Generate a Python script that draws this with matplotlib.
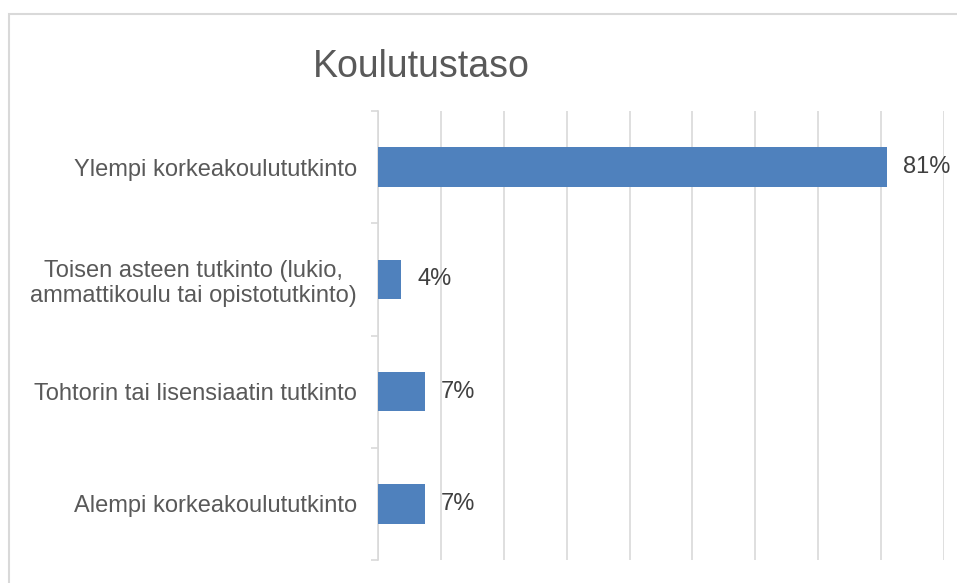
import matplotlib.pyplot as plt
from matplotlib.patches import Rectangle

plt.rcParams['font.family'] = ['Liberation Sans', 'DejaVu Sans']

# data (top to bottom)
categories = [
    'Ylempi korkeakoulututkinto',
    'Toisen asteen tutkinto (lukio,\nammattikoulu tai opistotutkinto)',
    'Tohtorin tai lisensiaatin tutkinto',
    'Alempi korkeakoulututkinto',
]
values = [0.81, 0.037, 0.074, 0.074]
labels = ['81%', '4%', '7%', '7%']

W, H = 957, 583
fig = plt.figure(figsize=(W / 100, H / 100), dpi=100)

# chart border (light gray, runs off right/bottom edge)
fig.patches.append(Rectangle((9 / W, -0.1), 1.2, 1 - 14 / H + 0.1,
                             transform=fig.transFigure, fill=False,
                             edgecolor='#D9D9D9', linewidth=1.5))

ax = fig.add_axes([378 / W, 1 - 560 / H, (944 - 378) / W, (560 - 111) / H])

y = list(range(len(categories)))
ax.barh(y, values, height=0.35, color='#4F81BD', zorder=3)

for yi, v, lab in zip(y, values, labels):
    ax.annotate(lab, (v, yi), xytext=(11.5, 0), textcoords='offset points',
                va='center', ha='left', fontsize=17, color='#404040')

ax.set_xlim(0, 0.9)
ax.set_ylim(len(categories) - 0.5, -0.5)
ax.set_xticks([i / 10 for i in range(10)])
ax.xaxis.grid(True, color='#D9D9D9', linewidth=1.2, zorder=0)
ax.tick_params(axis='x', length=0, labelbottom=False)

ax.set_yticks(y)
ax.set_yticklabels(categories, fontsize=17, color='#595959',
                   multialignment='center')
ax.tick_params(axis='y', which='major', length=0, pad=15)
ax.set_yticks([i - 0.5 for i in range(len(categories) + 1)], minor=True)
ax.tick_params(axis='y', which='minor', length=5, width=1.2, color='#D9D9D9')

for s in ['top', 'right', 'bottom']:
    ax.spines[s].set_visible(False)
ax.spines['left'].set_color('#D9D9D9')
ax.spines['left'].set_linewidth(1.2)

fig.text(421.5 / W, 1 - 77 / H, 'Koulutustaso', ha='center', va='baseline',
         fontsize=27, color='#595959')

fig.savefig('out.png', dpi=100)
